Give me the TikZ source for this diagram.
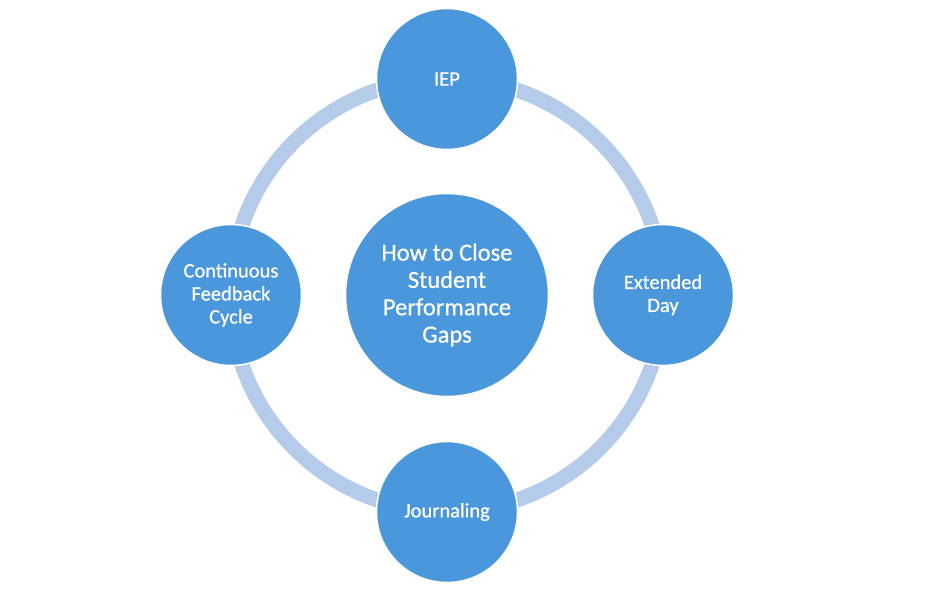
\documentclass[tikz,border=0pt]{standalone}
\usepackage{fontspec}
\setmainfont{Carlito}[FakeBold=0.6,AutoFakeBold=0.6]
\definecolor{circfill}{HTML}{4A98DB}
\definecolor{ringcol}{HTML}{B4CCEA}
\begin{document}
\begin{tikzpicture}[x=1pt,y=1pt,
  smallc/.style={circle,fill=circfill,draw=white,line width=1.5pt,minimum size=141pt,inner sep=0pt,text=white,align=center,font=\fontsize{20.5}{23}\selectfont},
  bigc/.style={circle,fill=circfill,draw=white,line width=1.5pt,minimum size=203pt,inner sep=0pt,text=white,align=center,font=\fontsize{24.5}{27.3}\selectfont}]
\useasboundingbox (0,0) rectangle (933,597);
\coordinate (c) at (447,302);
\draw[ringcol,line width=15pt] (c) circle (216.5);
\node[bigc] (center) at (c) {How to Close\\Student\\Performance\\Gaps};
\node[smallc] (iep) at (447,518) {IEP};
\node[smallc] (ext) at (663,302) {Extended\\Day};
\node[smallc] (jour) at (447,85) {Journaling};
\node[smallc] (cont) at (231,302) {Continuous\\Feedback\\Cycle};
\end{tikzpicture}
\end{document}
